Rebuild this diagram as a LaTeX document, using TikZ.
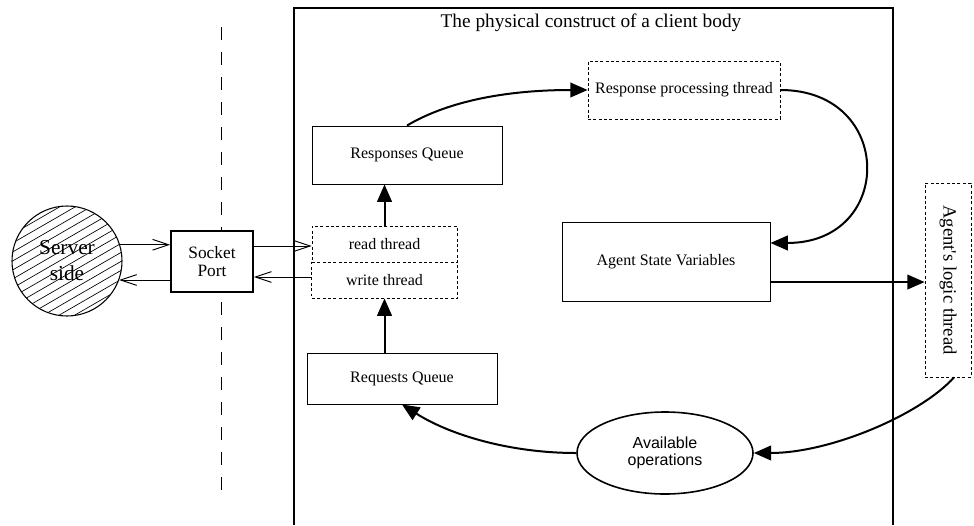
\documentclass[tikz,border=0pt]{standalone}
\usepackage{fontspec}
\setmainfont{Liberation Serif}
\newfontfamily\arialfont{Liberation Sans}
\usetikzlibrary{arrows.meta,shapes.geometric,calc}

\begin{document}
\begin{tikzpicture}[x=0.75pt,y=-0.75pt,
  box/.style={draw, line width=0.7pt, inner sep=0pt, align=center, font=\fontsize{12}{14}\selectfont},
  dashpat/.style={line width=0.6pt, dash pattern=on 2.2pt off 1.8pt},
  dbox/.style={box, dashpat},
  flow/.style={line width=1.5pt, -{Triangle[length=13pt,width=11pt]}},
  wire/.style={line width=0.7pt, -{Straight Barb[length=12pt,width=8pt]}},
  hatch/.style={line width=0.5pt},
]
\useasboundingbox (0,0) rectangle (974,525);

% boundary of the client body
\draw[line width=0.8pt] (294,525) -- (294,8) -- (893,8) -- (893,525);
\node[font=\fontsize{14.5}{17}\selectfont] (title) at (591,23) {The physical construct of a client body};

% network divider
\draw[line width=0.6pt, dash pattern=on 9.75pt off 9pt] (221,27) -- (221,500);

% server and socket
\node[circle, draw, line width=0.8pt, minimum size=82.5pt, inner sep=0pt, align=center,
      font=\fontsize{16}{19.5}\selectfont,
      path picture={\foreach \c in {-126,-117,...,162}{
        \draw[hatch] ($(path picture bounding box.center)+(-70,\c)$) -- ++(140,-80.8);}}]
      (server) at (67,261) {Server\\side};
\node[box, line width=1.4pt, fill=white, minimum width=61.5pt, minimum height=45.75pt,
      font=\fontsize{13}{14}\selectfont] (socket) at (212,261.5) {Socket\\Port};

% client body parts
\node[dbox, minimum width=108.75pt, minimum height=27pt] (rd) at (384.5,244) {read thread};
\node[box, draw=none, minimum width=108.75pt, minimum height=27pt] (wr) at (384.5,280) {write thread};
\draw[dashpat] (wr.north west) -- (wr.south west) -- (wr.south east) -- (wr.north east);
\node[box, minimum width=142.5pt, minimum height=43.5pt] (resq) at (407,155) {Responses Queue};
\node[box, minimum width=142.5pt, minimum height=38.25pt] (reqq) at (402,378.5) {Requests Queue};
\node[dbox, minimum width=144pt, minimum height=43.5pt] (resp) at (684,90) {Response processing thread};
\node[box, minimum width=156pt, minimum height=59.25pt] (asv) at (666,261.5) {Agent State Variables};
\node[dbox, minimum width=34.5pt, minimum height=145.5pt, font=\fontsize{14}{16}\selectfont]
      (alt) at (948,280) {\rotatebox{-90}{Agent\textquotesingle s logic thread}};
\node[ellipse, draw, line width=1.2pt, minimum width=132pt, minimum height=61.5pt, inner sep=0pt,
      align=center, font=\arialfont\fontsize{12}{13}\selectfont] (ell) at (665,453) {Available\\operations};

% socket traffic
\draw[wire] (server.17) -- (socket.west |- server.17);
\draw[wire] (socket.west |- server.-20) -- (server.-20);
\draw[wire] ([yshift=-1.5pt]socket.east |- rd.west) -- ([yshift=-1.5pt]rd.west);
\draw[wire] ([yshift=2.25pt]wr.west) -- ([yshift=2.25pt]socket.east |- wr.west);

% internal flow
\draw[flow] (rd.north) -- (resq.south -| rd.north);
\draw[flow] (reqq.north -| wr.south) -- (wr.south);
\draw[flow] (resq.north) .. controls (450,100) and (510,90) .. (resp.west);
\draw[flow] (resp.east) .. controls (895,90) and (895,243) .. ([yshift=13.9pt]asv.east);
\draw[flow] ([yshift=-15.4pt]asv.east) -- ([yshift=-15.4pt]alt.west |- asv.east);
\draw[flow] ([xshift=4.5pt]alt.south) .. controls (920,415) and (830,453) .. (ell.east);
\draw[flow] (ell.west) .. controls (510,453) and (450,435) .. (reqq.south);
\end{tikzpicture}
\end{document}
